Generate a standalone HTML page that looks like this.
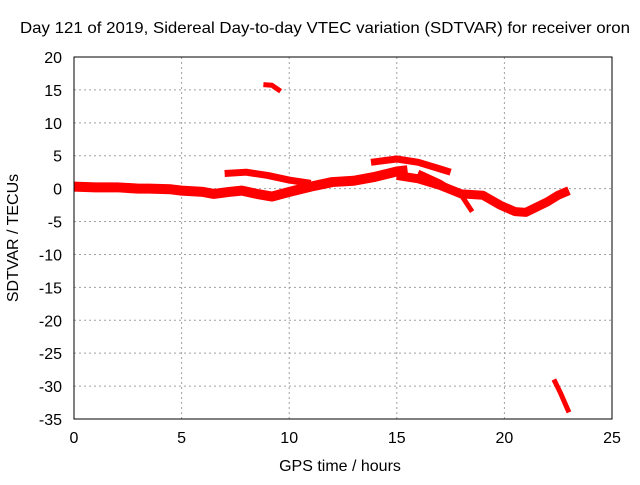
<!DOCTYPE html>
<html><head><meta charset="utf-8"><style>
body{margin:0;background:#fff}
svg text{font-family:"Liberation Sans",sans-serif;font-size:16px;fill:#000}
</style></head><body>
<svg id="chart" width="640" height="480">
<text x="325" y="33" text-anchor="middle" textLength="610" lengthAdjust="spacingAndGlyphs">Day 121 of 2019, Sidereal Day-to-day VTEC variation (SDTVAR) for receiver oron</text>
<g id="grid"></g>
<g id="ticks"></g>
<g id="series"></g>
<rect x="74" y="57" width="538" height="362" fill="none" stroke="#000" stroke-width="1"/>
<text x="340" y="471" text-anchor="middle">GPS time / hours</text>
<text transform="translate(18,238) rotate(-90)" text-anchor="middle">SDTVAR / TECUs</text>
</svg>
<script>
const xTicks=[0,5,10,15,20,25];
const yTicks=[20,15,10,5,0,-5,-10,-15,-20,-25,-30,-35];
const trackMainH=[0,1,2,3,3.5,4.5,5,6,6.5,7.2,7.8,8.5,9.2,10,11,12,13,14,15,15.5];
const trackMainV=[0.3,0.2,0.2,0,0,-0.1,-0.3,-0.5,-0.8,-0.5,-0.3,-0.8,-1.2,-0.5,0.3,1,1.2,1.8,2.6,2.8];
const trackLateH=[15,16,17,18,19,19.8,20.5,21,21.5,22,22.5,23];
const trackLateV=[2,1.5,0.5,-0.8,-1,-2.5,-3.5,-3.6,-2.8,-2,-1,-0.3];
const trackUpperH=[7,8,9,10,11];
const trackUpperV=[2.3,2.5,2,1.3,0.8];
const trackUpper2H=[13.8,15,16,17,17.5];
const trackUpper2V=[4,4.5,4,3,2.5];
const trackBranchH=[16,17,18,18.5];
const trackBranchV=[2.5,1,-1,-3.5];
const trackTopH=[8.8,9.2,9.6];
const trackTopV=[15.8,15.7,14.8];
const trackBottomH=[22.3,22.6,23];
const trackBottomV=[-29,-31,-34];
const X=h=>74+h*538/25;
const Y=v=>57+(20-v)*362/55;
const NS='http://www.w3.org/2000/svg';
const grid=document.getElementById('grid'),ticks=document.getElementById('ticks'),ser=document.getElementById('series');
xTicks.forEach(t=>{
 const x=X(t);
 if(t>0&&t<25){const l=document.createElementNS(NS,'line');l.setAttribute('x1',x);l.setAttribute('x2',x);l.setAttribute('y1',57);l.setAttribute('y2',419);l.setAttribute('stroke','#a0a0a0');l.setAttribute('stroke-dasharray','2,3');
 
 
 grid.appendChild(l);}
 const tx=document.createElementNS(NS,'text');tx.setAttribute('x',x);tx.setAttribute('y',443);tx.setAttribute('text-anchor','middle');tx.textContent=t;
 
 
 ticks.appendChild(tx);
});
yTicks.forEach(t=>{
 const y=Y(t);
 if(t<20&&t>-35){const l=document.createElementNS(NS,'line');l.setAttribute('x1',74);l.setAttribute('x2',612);l.setAttribute('y1',y);l.setAttribute('y2',y);l.setAttribute('stroke','#a0a0a0');l.setAttribute('stroke-dasharray','2,3');
 
 
 grid.appendChild(l);}
 const tx=document.createElementNS(NS,'text');tx.setAttribute('x',62);tx.setAttribute('y',y+6);tx.setAttribute('text-anchor','end');tx.textContent=t;
 
 
 ticks.appendChild(tx);
});
function track(hs,vs,name,w){
 const p=document.createElementNS(NS,'polyline');
 p.setAttribute('points',hs.map((h,i)=>X(h)+','+Y(vs[i])).join(' '));
 p.setAttribute('fill','none');p.setAttribute('stroke','#ff0000');p.setAttribute('stroke-width',w);p.setAttribute('stroke-linejoin','round');
 
 
 ser.appendChild(p);
}
track(trackMainH,trackMainV,'track-main',10);
track(trackLateH,trackLateV,'track-late',9);
track(trackUpperH,trackUpperV,'track-upper',7);
track(trackUpper2H,trackUpper2V,'track-upper2',7);
track(trackBranchH,trackBranchV,'track-branch',5);
track(trackTopH,trackTopV,'track-top',5);
track(trackBottomH,trackBottomV,'track-bottom',5);
</script>
</body></html>
